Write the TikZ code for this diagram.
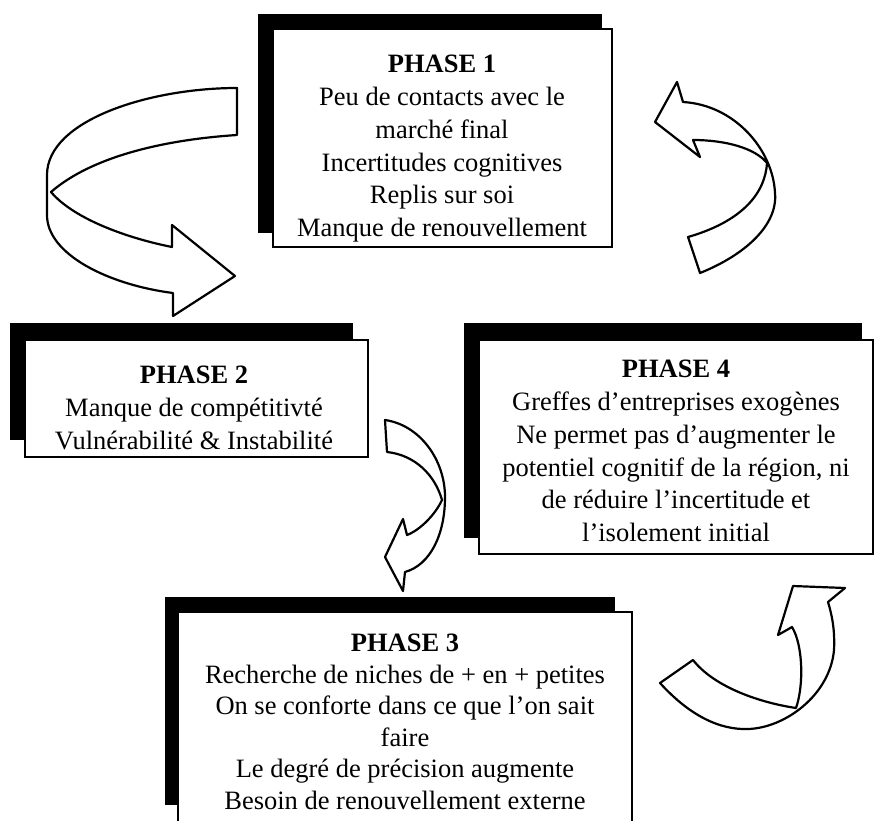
\documentclass[tikz,border=0pt]{standalone}
\usepackage{fontspec}
\setmainfont{Liberation Serif}
\tikzset{
  shadowbox/.style={fill=black, draw=none},
  frontbox/.style={fill=white, draw=black, line width=2pt},
  blockarrow/.style={fill=white, draw=black, line width=2.2pt, line join=round},
  phasetext/.style={align=center, inner sep=0pt, anchor=north, font=\fontsize{26.5}{32.8}\selectfont},
}
\begin{document}
\begin{tikzpicture}[x=1pt,y=-1pt]
\useasboundingbox (0,0) rectangle (875,820);
\clip (0,0) rectangle (875,820);
\fill[white] (0,0) rectangle (875,820);

% Phase 1
\fill[shadowbox] (258,14) rectangle (602,233);
\draw[frontbox] (273,29) rectangle (612,247);
\node[phasetext] (p1) at (442,55) {\textbf{PHASE 1}\\Peu de contacts avec le\\marché final\\Incertitudes cognitives\\Replis sur soi\\Manque de renouvellement};

% Phase 2
\fill[shadowbox] (10,323) rectangle (353,440);
\draw[frontbox] (25,340) rectangle (368,457);
\node[phasetext] (p2) at (194,366) {\textbf{PHASE 2}\\Manque de compétitivté\\Vulnérabilité \& Instabilité};

% Phase 4
\fill[shadowbox] (464,323) rectangle (862,538);
\draw[frontbox] (479,340) rectangle (873,554);
\node[phasetext] (p4) at (676,360) {\textbf{PHASE 4}\\Greffes d’entreprises exogènes\\Ne permet pas d’augmenter le\\potentiel cognitif de la région, ni\\de réduire l’incertitude et\\l’isolement initial};

% Phase 3
\fill[shadowbox] (165,597) rectangle (615,805);
\draw[frontbox] (178,612) rectangle (632,830);
\node[phasetext, font=\fontsize{26.5}{31.5}\selectfont] (p3) at (405,634) {\textbf{PHASE 3}\\Recherche de niches de + en + petites\\On se conforte dans ce que l’on sait\\faire\\Le degré de précision augmente\\Besoin de renouvellement externe};

% Arrow A : phase 1 -> phase 2
\draw[blockarrow] (237,135) -- (237,88)
  .. controls (150,88) and (47,120) .. (47,175)
  -- (47,215)
  .. controls (47,255) and (110,285) .. (173,293)
  -- (173,316) -- (235,276) -- (172,225) -- (172,247)
  .. controls (122,237) and (72,217) .. (51,192)
  .. controls (90,158) and (160,140) .. (237,135) -- cycle;

% Arrow B : phase 2 -> phase 3
\draw[blockarrow] (387,452) -- (385,420)
  .. controls (420,425) and (445,460) .. (445,497)
  .. controls (445,535) and (430,565) .. (405,572)
  -- (403,591) -- (385,557) -- (403,519) -- (407,535)
  .. controls (420,530) and (435,515) .. (442,500)
  .. controls (435,475) and (415,455) .. (387,452) -- cycle;

% Arrow C : phase 3 -> phase 4
\draw[blockarrow] (693,660) -- (660,683)
  .. controls (690,716) and (720,730) .. (748,729)
  .. controls (785,728) and (830,695) .. (834,650)
  .. controls (835,630) and (832,615) .. (828,602)
  -- (845,588) -- (793,586) -- (778,635) -- (792,627)
  .. controls (803,645) and (804,685) .. (796,708)
  .. controls (762,703) and (715,688) .. (693,660) -- cycle;

% Arrow D : phase 4 -> phase 1
\draw[blockarrow] (688,237) -- (700,273)
  .. controls (745,255) and (778,225) .. (775,193)
  .. controls (773,150) and (735,105) .. (683,102)
  -- (677,82) -- (655,122) -- (700,157) -- (693,140)
  .. controls (725,140) and (755,148) .. (767,163)
  .. controls (765,195) and (740,222) .. (688,237) -- cycle;
\end{tikzpicture}
\end{document}
